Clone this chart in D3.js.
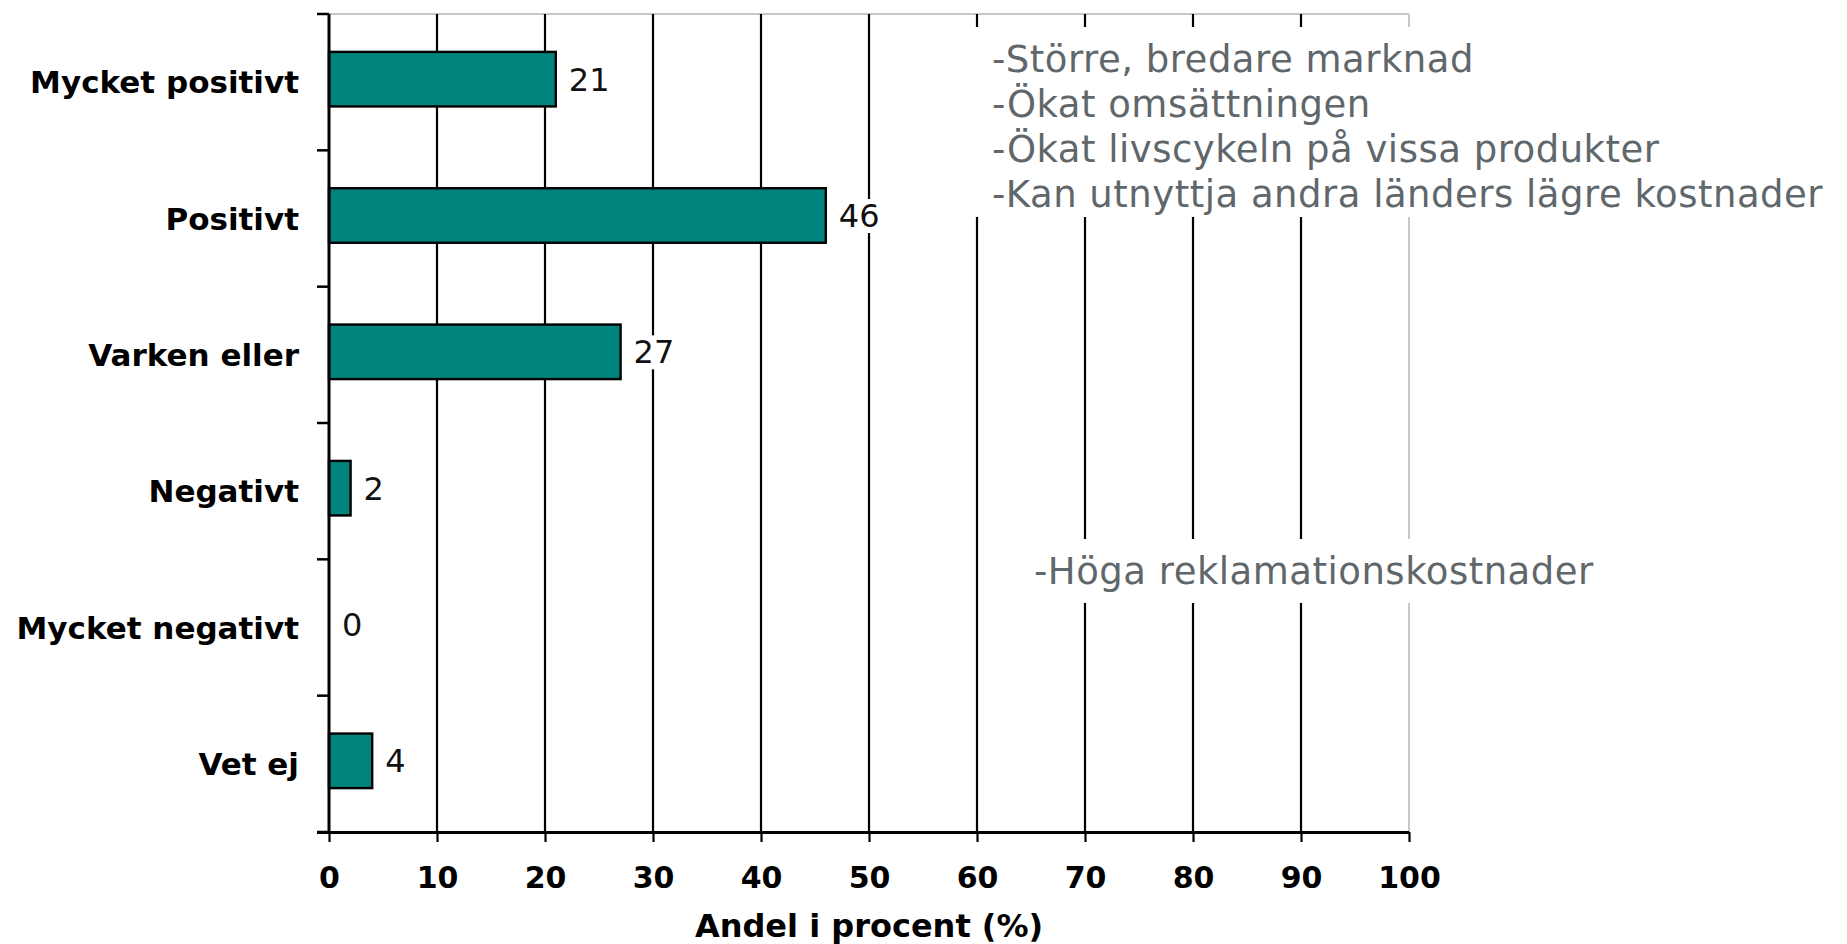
<!DOCTYPE html>
<html>
<head>
<meta charset="utf-8">
<script src="https://cdn.jsdelivr.net/npm/d3@7"></script>
<style>
  html, body { margin: 0; padding: 0; background: #fff; }
  svg { display: block; }
</style>
</head>
<body>
<svg id="chart" width="1847" height="944"></svg>
<script>
const categories = ["Mycket positivt", "Positivt", "Varken eller", "Negativt", "Mycket negativt", "Vet ej"];
const values = [21, 46, 27, 2, 0, 4];
const xTicks = [0, 10, 20, 30, 40, 50, 60, 70, 80, 90, 100];
const xTitle = "Andel i procent (%)";
const positiveNotes = ["-Större, bredare marknad", "-Ökat omsättningen", "-Ökat livscykeln på vissa produkter", "-Kan utnyttja andra länders lägre kostnader"];
const negativeNotes = ["-Höga reklamationskostnader"];

(function () {
const svg = d3.select("#chart");
const pL = 329, pR = 1409, pT = 14, pB = 832;
const font = "'DejaVu Sans', Verdana, sans-serif";

const x = d3.scaleLinear().domain([0, 100]).range([pL, pR]);
const y = d3.scaleBand().domain(categories).range([pT - 3, pB - 3]).paddingInner(0.6).paddingOuter(0.3);
const yEdge = d3.scaleBand().domain(categories).range([pT, pB]);

// plot border top/right gray
svg.append("line").attr("x1", pL).attr("x2", pR).attr("y1", pT).attr("y2", pT)
  .attr("stroke", "#c4c8cc").attr("stroke-width", 2);
svg.append("line").attr("x1", pR).attr("x2", pR).attr("y1", pT).attr("y2", pB)
  .attr("stroke", "#c4c8cc").attr("stroke-width", 2);

// vertical gridlines
svg.append("g").selectAll("line").data(xTicks.filter(t => t > 0 && t < 100)).join("line")
  .attr("x1", d => x(d)).attr("x2", d => x(d)).attr("y1", pT).attr("y2", pB)
  .attr("stroke", "#000").attr("stroke-width", 2.2);

// bars
svg.append("g").selectAll("rect").data(categories).join("rect")
  .attr("x", x(0))
  .attr("y", d => y(d))
  .attr("width", (d, i) => x(values[i]) - x(0))
  .attr("height", y.bandwidth())
  .attr("fill", "#00837d")
  .attr("stroke", "#000")
  .attr("stroke-width", (d, i) => values[i] > 0 ? 2.4 : 0);

// value labels with white background
const vg = svg.append("g");
categories.forEach((c, i) => {
  const g = vg.append("g");
  const bg = g.append("rect").attr("fill", "#fff");
  const t = g.append("text")
    .attr("x", x(values[i]) + 13)
    .attr("y", y(c) + y.bandwidth() / 2)
    .attr("dy", "0.36em")
    .attr("font-family", font).attr("font-size", 32).attr("fill", "#111")
    .text(values[i]);
  const b = t.node().getBBox();
  bg.attr("x", b.x - 3).attr("y", b.y + 2).attr("width", b.width + 6).attr("height", b.height - 4);
});

// x axis
const xAxis = d3.axisBottom(x).tickValues(xTicks).tickSize(10).tickPadding(25).tickFormat(d3.format("d"));
const gx = svg.append("g").attr("transform", `translate(0,${pB})`).call(xAxis);
gx.select(".domain").attr("d", `M${pL - 12},0.5H${pR}`).attr("stroke", "#000").attr("stroke-width", 3);
gx.selectAll(".tick line").attr("stroke", "#000").attr("stroke-width", 2.2);
gx.selectAll(".tick text").attr("font-family", font).attr("font-size", 30).attr("font-weight", "bold").attr("fill", "#000");

// y axis: ticks at band edges
const edges = categories.map(c => yEdge(c)).concat([pB]);
const gy = svg.append("g");
gy.append("line").attr("x1", pL).attr("x2", pL).attr("y1", pT).attr("y2", pB)
  .attr("stroke", "#000").attr("stroke-width", 3);
gy.selectAll("line.t").data(edges).join("line").attr("class", "t")
  .attr("x1", pL - 12).attr("x2", pL).attr("y1", d => d).attr("y2", d => d)
  .attr("stroke", "#000").attr("stroke-width", 2.5);
gy.selectAll("text").data(categories).join("text")
  .attr("x", 299)
  .attr("y", d => yEdge(d) + yEdge.bandwidth() / 2)
  .attr("dy", "0.36em").attr("text-anchor", "end")
  .attr("font-family", font).attr("font-size", 31).attr("font-weight", "bold").attr("fill", "#000")
  .text(d => d);

// x title
svg.append("text").attr("x", (pL + pR) / 2).attr("y", 925).attr("dy", "0.36em")
  .attr("text-anchor", "middle").attr("font-family", font).attr("font-size", 32).attr("font-weight", "bold")
  .attr("fill", "#000").text(xTitle);

// annotation boxes (white fill hides gridlines behind)
svg.append("rect").attr("x", 972).attr("y", 27).attr("width", 866).attr("height", 190).attr("fill", "#fff");
svg.append("rect").attr("x", 1022).attr("y", 539).attr("width", 580).attr("height", 64).attr("fill", "#fff");

// annotations
svg.append("g").selectAll("text").data(positiveNotes).join("text")
  .attr("x", 992).attr("y", (d, i) => 59 + i * 45).attr("dy", "0.36em")
  .attr("font-family", font).attr("font-size", 37).attr("letter-spacing", 0.5).attr("fill", "#60676b")
  .text(d => d);
svg.append("g").selectAll("text").data(negativeNotes).join("text")
  .attr("x", 1034).attr("y", 571).attr("dy", "0.36em")
  .attr("font-family", font).attr("font-size", 37).attr("letter-spacing", 0.5).attr("fill", "#60676b")
  .text(d => d);
})();
</script>
</body>
</html>
